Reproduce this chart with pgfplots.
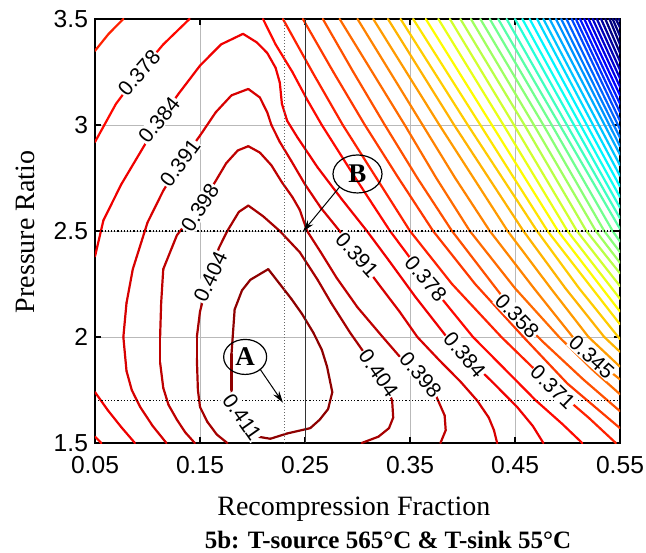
\documentclass[border=0pt]{standalone}
\usepackage{pgfplots}
\pgfplotsset{compat=1.18}
\usepackage{fontspec}
\setmainfont{Liberation Serif}
\setsansfont{Liberation Sans}
\usetikzlibrary{shapes.geometric, arrows.meta}

% one contour level per plot: x, y and the level value (used for the colour)
\pgfplotsset{cline/.style={mesh, point meta=explicit, line width=1.1pt,
    line join=round, line cap=round, mark=none}}
\tikzset{clab/.style={font=\sffamily\fontsize{10.5}{12}\selectfont,
    fill=white, inner sep=0.4pt}}

\begin{document}
\begin{tikzpicture}
\begin{axis}[
  name=ax,
  scale only axis, width=262.5pt, height=212pt,
  xmin=0.05, xmax=0.55, ymin=1.5, ymax=3.5,
  xtick={0.05,0.15,0.25,0.35,0.45,0.55},
  xticklabels={0.05,0.15,0.25,0.35,0.45,0.55},
  ytick={1.5,2,2.5,3,3.5},
  yticklabels={1.5,2,2.5,3,3.5},
  tick align=inside, major tick length=3pt,
  tick style={black, line width=0.6pt},
  ticklabel style={font=\sffamily\fontsize{12.3}{14}\selectfont},
  xticklabel style={yshift=-3pt},
  grid=major, grid style={gray!55, line width=0.4pt},
  axis line style={line width=0.7pt},
  colormap/jet, point meta min=0.14, point meta max=0.415,
  xlabel={Recompression Fraction},
  ylabel={Pressure Ratio},
  label style={font=\fontsize{14}{16}\selectfont},
  xlabel style={at={(axis description cs:0.493,-0.170)}, anchor=base},
  ylabel style={at={(axis description cs:-0.133,0.498)}, anchor=center},
]

% ---- level 0.411 (closed loop) ----
\addplot[cline] table[meta index=2] {
x y z
0.215 2.32 0.4113
0.226 2.25 0.4113
0.237 2.18 0.4113
0.247 2.11 0.4113
0.258 2.02 0.4113
0.266 1.94 0.4113
0.271 1.86 0.4113
0.276 1.74 0.4113
0.272 1.66 0.4113
0.264 1.61 0.4113
0.255 1.57 0.4113
0.233 1.545 0.4113
0.217 1.52 0.4113
0.205 1.53 0.4113
0.196 1.57 0.4113
0.188 1.62 0.4113
0.182 1.68 0.4113
0.180 1.75 0.4113
0.180 1.92 0.4113
0.183 2.13 0.4113
0.190 2.22 0.4113
0.198 2.27 0.4113
0.215 2.32 0.4113
};
% ---- level 0.404 ----
\addplot[cline] table[meta index=2] {
x y z
0.176 1.50 0.4047
0.166 1.54 0.4047
0.157 1.60 0.4047
0.150 1.67 0.4047
0.148 1.75 0.4047
0.147 1.90 0.4047
0.147 2.00 0.4047
0.150 2.12 0.4047
0.155 2.22 0.4047
0.162 2.33 0.4047
0.168 2.42 0.4047
0.176 2.50 0.4047
0.187 2.59 0.4047
0.196 2.62 0.4047
0.210 2.57 0.4047
0.226 2.50 0.4047
0.245 2.40 0.4047
0.262 2.27 0.4047
0.275 2.16 0.4047
0.293 2.02 0.4047
0.310 1.90 0.4047
0.325 1.80 0.4047
0.333 1.70 0.4047
0.334 1.62 0.4047
0.330 1.57 0.4047
0.320 1.53 0.4047
0.304 1.50 0.4047
};
% ---- level 0.398 ----
\addplot[cline] table[meta index=2] {
x y z
0.145 1.50 0.3981
0.136 1.55 0.3981
0.128 1.61 0.3981
0.120 1.68 0.3981
0.115 1.76 0.3981
0.112 1.88 0.3981
0.112 2.00 0.3981
0.113 2.16 0.3981
0.115 2.32 0.3981
0.128 2.48 0.3981
0.150 2.62 0.3981
0.163 2.72 0.3981
0.175 2.82 0.3981
0.186 2.88 0.3981
0.196 2.90 0.3981
0.207 2.87 0.3981
0.218 2.81 0.3981
0.228 2.73 0.3981
0.238 2.66 0.3981
0.245 2.60 0.3981
0.252 2.50 0.3981
0.265 2.40 0.3981
0.280 2.28 0.3981
0.300 2.14 0.3981
0.324 2.00 0.3981
0.345 1.88 0.3981
0.362 1.80 0.3981
0.375 1.72 0.3981
0.383 1.63 0.3981
0.384 1.56 0.3981
0.379 1.50 0.3981
};
% ---- level 0.391 ----
\addplot[cline] table[meta index=2] {
x y z
0.118 1.50 0.3915
0.105 1.58 0.3915
0.093 1.67 0.3915
0.085 1.75 0.3915
0.080 1.84 0.3915
0.077 2.00 0.3915
0.080 2.16 0.3915
0.086 2.32 0.3915
0.100 2.54 0.3915
0.115 2.69 0.3915
0.131 2.82 0.3915
0.150 2.95 0.3915
0.165 3.06 0.3915
0.180 3.14 0.3915
0.196 3.17 0.3915
0.207 3.13 0.3915
0.214 3.06 0.3915
0.218 3.00 0.3915
0.226 2.92 0.3915
0.237 2.83 0.3915
0.250 2.72 0.3915
0.265 2.61 0.3915
0.283 2.50 0.3915
0.2995 2.387 0.3915
0.320 2.25 0.3915
0.340 2.12 0.3915
0.357 2.00 0.3915
0.378 1.89 0.3915
0.398 1.79 0.3915
0.414 1.70 0.3915
0.425 1.62 0.3915
0.430 1.56 0.3915
0.433 1.50 0.3915
};
% ---- level 0.384 ----
\addplot[cline] table[meta index=2] {
x y z
0.050 1.74 0.3850
0.062 1.656 0.3850
0.075 1.575 0.3850
0.088 1.50 0.3850
};
\addplot[cline] table[meta index=2] {
x y z
0.050 2.38 0.3850
0.058 2.55 0.3850
0.075 2.72 0.3850
0.093 2.87 0.3850
0.111 3.02 0.3850
0.130 3.15 0.3850
0.150 3.28 0.3850
0.170 3.38 0.3850
0.191 3.43 0.3850
0.204 3.39 0.3850
0.214 3.34 0.3850
0.222 3.27 0.3850
0.226 3.20 0.3850
0.228 3.10 0.3850
0.233 3.02 0.3850
0.243 2.94 0.3850
0.262 2.80 0.3850
0.285 2.65 0.3850
0.309 2.50 0.3850
0.330 2.36 0.3850
0.355 2.19 0.3850
0.385 2.00 0.3850
0.402 1.915 0.3850
0.428 1.79 0.3850
0.452 1.67 0.3850
0.467 1.58 0.3850
0.477 1.50 0.3850
};
% ---- level 0.378 ----
\addplot[cline] table[meta index=2] {
x y z
0.050 1.53 0.3784
0.056 1.50 0.3784
};
\addplot[cline] table[meta index=2] {
x y z
0.050 2.92 0.3784
0.070 3.10 0.3784
0.092 3.245 0.3784
0.115 3.38 0.3784
0.140 3.50 0.3784
};
\addplot[cline] table[meta index=2] {
x y z
0.210 3.50 0.3784
0.222 3.38 0.3784
0.238 3.25 0.3784
0.252 3.12 0.3784
0.266 3.00 0.3784
0.298 2.75 0.3784
0.331 2.50 0.3784
0.365 2.274 0.3784
0.410 2.00 0.3784
0.440 1.85 0.3784
0.470 1.70 0.3784
0.495 1.59 0.3784
0.514 1.50 0.3784
};
% ---- level 0.371 ----
\addplot[cline] table[meta index=2] {
x y z
0.050 3.35 0.3718
0.063 3.43 0.3718
0.077 3.50 0.3718
};
\addplot[cline] table[meta index=2] {
x y z
0.229 3.50 0.3718
0.257 3.25 0.3718
0.286 3.00 0.3718
0.318 2.75 0.3718
0.350 2.50 0.3718
0.390 2.25 0.3718
0.437 2.00 0.3718
0.486 1.764 0.3718
0.520 1.62 0.3718
0.546 1.50 0.3718
};
% ---- levels 0.365 ... 0.345 ----
\addplot[cline] table[meta index=2] {
x y z
0.248 3.50 0.3652
0.277 3.25 0.3652
0.307 3.00 0.3652
0.339 2.75 0.3652
0.372 2.50 0.3652
0.412 2.25 0.3652
0.458 2.00 0.3652
0.500 1.78 0.3652
0.550 1.57 0.3652
};
\addplot[cline] table[meta index=2] {
x y z
0.267 3.50 0.3587
0.296 3.25 0.3587
0.326 3.00 0.3587
0.357 2.75 0.3587
0.390 2.50 0.3587
0.452 2.10 0.3587
0.476 1.98 0.3587
0.515 1.80 0.3587
0.550 1.65 0.3587
};
\addplot[cline] table[meta index=2] {
x y z
0.283 3.50 0.3521
0.314 3.25 0.3521
0.345 3.00 0.3521
0.375 2.75 0.3521
0.407 2.50 0.3521
0.450 2.23 0.3521
0.492 2.00 0.3521
0.525 1.84 0.3521
0.550 1.73 0.3521
};
\addplot[cline] table[meta index=2] {
x y z
0.300 3.50 0.3455
0.331 3.25 0.3455
0.362 3.00 0.3455
0.393 2.75 0.3455
0.426 2.50 0.3455
0.468 2.23 0.3455
0.505 2.00 0.3455
0.522 1.91 0.3455
0.550 1.80 0.3455
};
% ---- levels 0.339 ... 0.273 ----
\addplot[cline] table[meta index=2] {
x y z
0.315 3.50 0.3389
0.378 3.00 0.3389
0.443 2.50 0.3389
0.484 2.23 0.3389
0.520 2.00 0.3389
0.550 1.86 0.3389
};
\addplot[cline] table[meta index=2] {
x y z
0.329 3.50 0.3323
0.392 3.00 0.3323
0.458 2.50 0.3323
0.498 2.23 0.3323
0.535 2.00 0.3323
0.550 1.93 0.3323
};
\addplot[cline] table[meta index=2] {
x y z
0.341 3.50 0.3258
0.405 3.00 0.3258
0.471 2.50 0.3258
0.511 2.23 0.3258
0.550 1.99 0.3258
};
\addplot[cline] table[meta index=2] {
x y z
0.353 3.50 0.3192
0.417 3.00 0.3192
0.481 2.50 0.3192
0.550 2.06 0.3192
};
\addplot[cline] table[meta index=2] {
x y z
0.365 3.50 0.3126
0.428 3.00 0.3126
0.491 2.50 0.3126
0.550 2.12 0.3126
};
\addplot[cline] table[meta index=2] {
x y z
0.377 3.50 0.3060
0.439 3.00 0.3060
0.500 2.50 0.3060
0.550 2.18 0.3060
};
\addplot[cline] table[meta index=2] {
x y z
0.388 3.50 0.2995
0.449 3.00 0.2995
0.509 2.50 0.2995
0.550 2.24 0.2995
};
\addplot[cline] table[meta index=2] {
x y z
0.398 3.50 0.2929
0.459 3.00 0.2929
0.518 2.50 0.2929
0.550 2.30 0.2929
};
\addplot[cline] table[meta index=2] {
x y z
0.408 3.50 0.2863
0.468 3.00 0.2863
0.527 2.50 0.2863
0.550 2.35 0.2863
};
\addplot[cline] table[meta index=2] {
x y z
0.417 3.50 0.2798
0.477 3.00 0.2798
0.535 2.50 0.2798
0.550 2.40 0.2798
};
\addplot[cline] table[meta index=2] {
x y z
0.426 3.50 0.2732
0.485 3.00 0.2732
0.543 2.50 0.2732
0.550 2.45 0.2732
};
% ---- levels 0.267 ... 0.115 (top edge to right edge) ----
\addplot[cline] table[meta index=2] {
x y z
0.434 3.50 0.2666
0.550 2.51 0.2666
};
\addplot[cline] table[meta index=2] {
x y z
0.442 3.50 0.2600
0.550 2.56 0.2600
};
\addplot[cline] table[meta index=2] {
x y z
0.450 3.50 0.2535
0.550 2.61 0.2535
};
\addplot[cline] table[meta index=2] {
x y z
0.457 3.50 0.2469
0.550 2.66 0.2469
};
\addplot[cline] table[meta index=2] {
x y z
0.464 3.50 0.2403
0.550 2.71 0.2403
};
\addplot[cline] table[meta index=2] {
x y z
0.471 3.50 0.2337
0.550 2.76 0.2337
};
\addplot[cline] table[meta index=2] {
x y z
0.477 3.50 0.2272
0.550 2.81 0.2272
};
\addplot[cline] table[meta index=2] {
x y z
0.483 3.50 0.2206
0.550 2.86 0.2206
};
\addplot[cline] table[meta index=2] {
x y z
0.489 3.50 0.2140
0.550 2.90 0.2140
};
\addplot[cline] table[meta index=2] {
x y z
0.494 3.50 0.2074
0.550 2.94 0.2074
};
\addplot[cline] table[meta index=2] {
x y z
0.499 3.50 0.2009
0.550 2.98 0.2009
};
\addplot[cline] table[meta index=2] {
x y z
0.504 3.50 0.1943
0.550 3.02 0.1943
};
\addplot[cline] table[meta index=2] {
x y z
0.508 3.50 0.1877
0.550 3.06 0.1877
};
\addplot[cline] table[meta index=2] {
x y z
0.512 3.50 0.1811
0.550 3.10 0.1811
};
\addplot[cline] table[meta index=2] {
x y z
0.516 3.50 0.1746
0.550 3.14 0.1746
};
\addplot[cline] table[meta index=2] {
x y z
0.520 3.50 0.1680
0.550 3.18 0.1680
};
\addplot[cline] table[meta index=2] {
x y z
0.524 3.50 0.1614
0.550 3.22 0.1614
};
\addplot[cline] table[meta index=2] {
x y z
0.528 3.50 0.1548
0.550 3.26 0.1548
};
\addplot[cline] table[meta index=2] {
x y z
0.532 3.50 0.1483
0.550 3.30 0.1483
};
\addplot[cline] table[meta index=2] {
x y z
0.536 3.50 0.1417
0.550 3.34 0.1417
};
\addplot[cline] table[meta index=2] {
x y z
0.540 3.50 0.1351
0.550 3.38 0.1351
};
\addplot[cline] table[meta index=2] {
x y z
0.543 3.50 0.1285
0.550 3.42 0.1285
};
\addplot[cline] table[meta index=2] {
x y z
0.546 3.50 0.1219
0.550 3.46 0.1219
};
\addplot[cline] table[meta index=2] {
x y z
0.549 3.50 0.1154
0.550 3.49 0.1154
};

% reference lines through the two marked designs
\draw[gray!80!black, line width=0.5pt, densely dotted] (axis cs:0.23,1.5) -- (axis cs:0.23,3.5);
\draw[black!80, line width=0.5pt] (axis cs:0.25,1.5) -- (axis cs:0.25,3.5);
\draw[black, line width=0.6pt, densely dotted] (axis cs:0.05,1.7) -- (axis cs:0.55,1.7);
\draw[black, line width=0.6pt, densely dotted] (axis cs:0.05,2.5) -- (axis cs:0.55,2.5);

% inline contour labels
\node[clab, rotate=49] at (axis cs:0.092,3.245) {0.378};
\node[clab, rotate=51] at (axis cs:0.111,3.024) {0.384};
\node[clab, rotate=53] at (axis cs:0.131,2.821) {0.391};
\node[clab, rotate=58] at (axis cs:0.150,2.610) {0.398};
\node[clab, rotate=65] at (axis cs:0.160,2.283) {0.404};
\node[clab, rotate=-55] at (axis cs:0.190,1.623) {0.411};
\node[clab, rotate=-48] at (axis cs:0.2995,2.387) {0.391};
\node[clab, rotate=-50] at (axis cs:0.365,2.274) {0.378};
\node[clab, rotate=-46] at (axis cs:0.452,2.099) {0.358};
\node[clab, rotate=-42] at (axis cs:0.523,1.905) {0.345};
\node[clab, rotate=-44] at (axis cs:0.486,1.764) {0.371};
\node[clab, rotate=-50] at (axis cs:0.402,1.915) {0.384};
\node[clab, rotate=-50] at (axis cs:0.360,1.821) {0.398};
\node[clab, rotate=-55] at (axis cs:0.320,1.830) {0.404};

% design points A and B
\node[draw, ellipse, line width=0.6pt, minimum width=21.5pt, minimum height=17.5pt,
      inner sep=0pt, font=\bfseries\fontsize{13.5}{15}\selectfont]
      at (axis cs:0.193,1.906) {A};
\draw[line width=0.5pt, -{Stealth[length=6pt,width=3.5pt]}]
      (axis cs:0.207,1.850) -- (axis cs:0.229,1.690);
\node[draw, ellipse, line width=0.6pt, minimum width=24.5pt, minimum height=19pt,
      inner sep=0pt, font=\bfseries\fontsize{13.5}{15}\selectfont]
      at (axis cs:0.300,2.769) {B};
\draw[line width=0.5pt, -{Stealth[length=6pt,width=3.5pt]}]
      (axis cs:0.283,2.708) -- (axis cs:0.248,2.497);
\end{axis}

\node[anchor=base, font=\bfseries\fontsize{12.5}{15}\selectfont]
  at (146.5pt,-52.5pt) {5b: T-source 565°C \& T-sink 55°C};

\pgfresetboundingbox
\path[use as bounding box] ([xshift=-47.5pt, yshift=-54.5pt]ax.south west)
  rectangle ([xshift=13pt, yshift=9.5pt]ax.north east);
\end{tikzpicture}
\end{document}
